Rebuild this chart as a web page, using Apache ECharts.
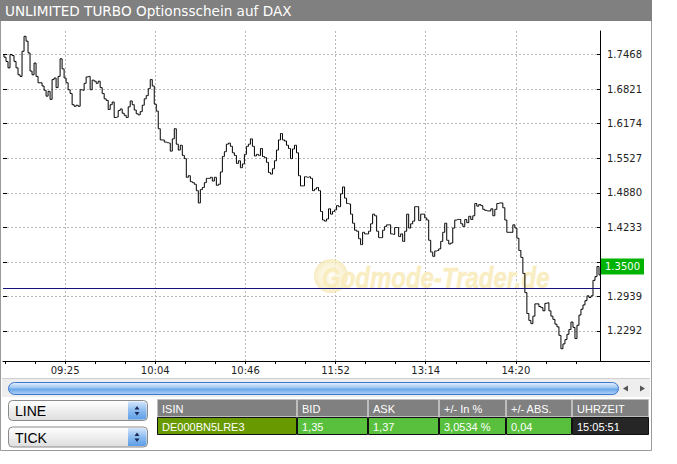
<!DOCTYPE html>
<html><head><meta charset="utf-8">
<script src="https://cdn.jsdelivr.net/npm/echarts@6/dist/echarts.min.js"></script>
<style>html,body{margin:0;padding:0;background:#fff}#c{width:677px;height:464px}</style>
</head><body><div id="c"></div>
<script>
const titleText = 'UNLIMITED TURBO Optionsschein auf DAX';
const timeLabels = ['09:25', '10:04', '10:46', '11:52', '13:14', '14:20'];
const timeLabelIndex = [31, 76, 121, 166, 211, 256];
const yTicks = [1.2292, 1.2939, 1.3586, 1.4233, 1.4880, 1.5527, 1.6174, 1.6821, 1.7468];
const yLabels = [1.2292, 1.2939, 1.4233, 1.4880, 1.5527, 1.6174, 1.6821, 1.7468];
const prices = [
1.747,1.742,1.734,1.722,1.747,1.745,1.734,1.722,1.709,1.706,
1.753,1.781,1.772,1.750,1.716,1.709,1.731,1.706,1.694,1.694,
1.688,1.680,1.669,1.678,1.663,1.700,1.703,1.685,1.706,1.739,
1.720,1.703,1.694,1.681,1.674,1.653,1.650,1.652,1.650,1.681,
1.680,1.693,1.705,1.706,1.681,1.699,1.697,1.693,1.697,1.685,
1.674,1.664,1.661,1.644,1.653,1.658,1.629,1.630,1.642,1.645,
1.637,1.633,1.629,1.649,1.660,1.653,1.643,1.636,1.634,1.640,
1.652,1.664,1.670,1.683,
1.700,1.688,1.654,1.641,1.608,1.587,1.587,1.583,1.582,1.581,
1.566,1.589,1.608,1.579,1.568,1.577,1.558,1.552,1.517,1.520,
1.509,1.507,1.504,1.492,1.469,1.494,1.498,1.507,1.515,1.515,
1.517,1.510,1.517,1.502,1.504,1.527,1.556,1.565,1.579,1.581,
1.575,1.563,1.558,1.543,1.548,1.535,1.542,1.560,1.575,1.579,
1.589,1.575,1.557,1.560,1.558,1.571,1.556,1.554,1.545,1.526,
1.523,1.533,1.548,1.568,1.587,1.599,1.587,1.585,1.577,1.571,
1.552,1.570,1.577,1.563,1.520,
1.501,1.501,1.518,1.517,1.518,1.515,1.492,1.495,1.498,1.492,
1.453,1.437,1.435,1.439,1.458,1.448,1.453,1.456,1.464,1.462,
1.486,1.499,1.478,1.468,1.467,1.448,1.431,1.418,1.416,1.402,
1.391,1.414,1.411,1.411,1.416,1.430,1.448,1.445,1.416,1.404,
1.404,1.418,1.425,1.428,1.428,1.411,1.410,1.423,1.423,1.406,
1.411,1.397,1.416,1.448,1.422,1.430,1.435,1.462,1.462,1.436,
1.448,1.448,1.441,1.437,1.399,1.377,1.369,1.379,1.380,1.383,
1.397,1.414,1.431,1.399,1.392,
1.394,1.422,1.437,1.438,1.438,1.430,1.425,1.438,1.432,1.444,
1.438,1.445,1.468,1.463,1.466,1.464,1.457,1.455,1.454,1.454,
1.458,1.445,1.457,1.468,1.469,1.469,1.460,1.437,1.414,1.414,
1.414,1.428,1.422,1.403,1.380,1.367,1.337,1.301,1.262,1.249,
1.243,1.257,1.280,1.280,1.275,1.273,1.267,1.281,1.282,1.267,
1.257,1.251,1.242,1.237,1.221,1.196,1.205,1.213,1.223,1.232,
1.246,1.236,1.215,1.240,1.259,1.270,1.278,1.286,1.295,1.292,
1.295,1.324,1.331,1.350,1.334
];
const lastPrice = 1.35;
const prevClose = 1.311;
const tableHeader = ['ISIN', 'BID', 'ASK', '+/- In %', '+/- ABS.', 'UHRZEIT'];
const tableRow = ['DE000BN5LRE3', '1,35', '1,37', '3,0534 %', '0,04', '15:05:51'];
const selectors = ['LINE', 'TICK'];
const watermarkText = 'Godmode-Trader.de';

const chart = echarts.init(document.getElementById('c'), null, {renderer: 'svg', width: 677, height: 464});
const categories = prices.map((_, i) => String(i));
const labelAt = {};
timeLabelIndex.forEach((k, j) => { labelAt[k] = timeLabels[j]; });
const isLabel = (i) => labelAt[i] !== undefined;
const isTick = (i) => i % 15 === 1;
const FF = 'DejaVu Sans';
const TF = 'Liberation Sans';

const colX = [157, 297, 368, 439, 506, 572, 649];
const rowFill = ['#689a00', '#58c03c', '#58c03c', '#58c03c', '#58c03c', '#262626'];
const graphics = [];
graphics.push({type: 'rect', z: 10, shape: {x: 0.5, y: 0.5, width: 651, height: 450}, style: {fill: 'none', stroke: '#9a9a9a', lineWidth: 1}});
graphics.push({type: 'rect', z: 10, shape: {x: 0, y: 0, width: 652, height: 21}, style: {fill: '#808080'}});
graphics.push({type: 'text', z: 11, x: 5, y: 11, style: {text: titleText, fill: '#fff', fontSize: 13.6, fontFamily: FF, textVerticalAlign: 'middle', verticalAlign: 'middle'}});
graphics.push({type: 'line', z: 10, shape: {x1: 600, y1: 361.5, x2: 650, y2: 361.5}, style: {stroke: '#000', lineWidth: 1}});
graphics.push({type: 'rect', z: 10, shape: {x: 2, y: 378, width: 648, height: 19}, style: {fill: '#eeeeee'}});
graphics.push({type: 'line', z: 10, shape: {x1: 2, y1: 378.5, x2: 650, y2: 378.5}, style: {stroke: '#cfcfcf'}});
graphics.push({type: 'rect', z: 11, shape: {x: 8.5, y: 382.5, width: 610, height: 12, r: 6}, style: {
  fill: new echarts.graphic.LinearGradient(0, 0, 0, 1, [
    {offset: 0, color: '#e6f0fd'}, {offset: 0.45, color: '#9cc5f2'}, {offset: 0.55, color: '#6aa6ec'}, {offset: 1, color: '#b0d2f6'}]),
  stroke: '#3d78d0', lineWidth: 1}});
graphics.push({type: 'polygon', z: 11, shape: {points: [[623, 388.5], [628, 385.5], [628, 391.5]]}, style: {fill: '#555'}});
graphics.push({type: 'polygon', z: 11, shape: {points: [[640, 385.5], [645, 388.5], [640, 391.5]]}, style: {fill: '#555'}});
selectors.forEach((s, k) => {
  const y0 = 400.5 + k * 26.5;
  graphics.push({type: 'rect', z: 10, shape: {x: 8.5, y: y0, width: 139, height: 20, r: 4}, style: {
    fill: new echarts.graphic.LinearGradient(0, 0, 0, 1, [{offset: 0, color: '#ffffff'}, {offset: 1, color: '#dedede'}]),
    stroke: '#8a8a8a', lineWidth: 1}});
  graphics.push({type: 'rect', z: 11, shape: {x: 128, y: y0 + 1, width: 18.5, height: 18, r: [0, 3, 3, 0]}, style: {
    fill: new echarts.graphic.LinearGradient(0, 0, 0, 1, [{offset: 0, color: '#d4e6fb'}, {offset: 0.5, color: '#8cbcf0'}, {offset: 1, color: '#5d9ee8'}])}});
  graphics.push({type: 'polygon', z: 12, shape: {points: [[134.5, y0 + 9], [139.5, y0 + 9], [137, y0 + 5.5]]}, style: {fill: '#1a2a55'}});
  graphics.push({type: 'polygon', z: 12, shape: {points: [[134.5, y0 + 11.5], [139.5, y0 + 11.5], [137, y0 + 15]]}, style: {fill: '#1a2a55'}});
  graphics.push({type: 'text', z: 12, x: 15, y: y0 + 10.5, style: {text: s, fill: '#000', fontSize: 14, fontFamily: TF, textVerticalAlign: 'middle', verticalAlign: 'middle'}});
});
tableHeader.forEach((h, j) => {
  graphics.push({type: 'rect', z: 10, shape: {x: colX[j] + 0.5, y: 399.5, width: colX[j + 1] - colX[j] - 1, height: 17}, style: {fill: '#808080', stroke: '#bdbdbd', lineWidth: 1}});
  graphics.push({type: 'text', z: 11, x: colX[j] + 5, y: 408.5, style: {text: h, fill: '#fff', fontSize: 11, fontFamily: TF, textVerticalAlign: 'middle', verticalAlign: 'middle'}});
  graphics.push({type: 'rect', z: 10, shape: {x: colX[j] + 0.5, y: 417.5, width: colX[j + 1] - colX[j] - 1, height: 17}, style: {fill: rowFill[j], stroke: '#111', lineWidth: 1}});
  graphics.push({type: 'text', z: 11, x: colX[j] + 5, y: 426.5, style: {text: tableRow[j], fill: '#fff', fontSize: 11, fontFamily: TF, textVerticalAlign: 'middle', verticalAlign: 'middle'}});
});
graphics.push({type: 'circle', z: 1, shape: {cx: 331, cy: 276, r: 17}, style: {
  fill: new echarts.graphic.RadialGradient(0.5, 0.5, 0.5, [{offset: 0, color: '#fffdf2'}, {offset: 0.7, color: '#faf1d0'}, {offset: 1, color: '#f4e6b0'}]), opacity: 0.8}});
graphics.push({type: 'text', z: 1, x: 322, y: 278, scaleX: 0.8, style: {text: watermarkText, fill: '#f9ebb8', stroke: '#fbf3d8', lineWidth: 1, fontSize: 30, fontWeight: 'bold', fontStyle: 'italic', fontFamily: TF, textVerticalAlign: 'middle', verticalAlign: 'middle', opacity: 0.85}});

const gridStyle = {color: '#b8b8b8', width: 1, type: [2, 2]};
chart.setOption({
  animation: false,
  grid: {left: 3, top: 31, width: 597, height: 330, containLabel: false, outerBoundsMode: 'none'},
  xAxis: {
    type: 'category', data: categories, boundaryGap: false,
    axisLine: {show: true, lineStyle: {color: '#000', width: 1}},
    axisTick: {show: true, interval: (i) => isTick(i), length: 3, lineStyle: {color: '#000'}},
    axisLabel: {show: true, interval: (i) => isLabel(i), formatter: (v, i) => labelAt[i] || '', color: '#222', fontSize: 10, fontFamily: FF, margin: 4},
    splitLine: {show: true, interval: (i) => isLabel(i), lineStyle: gridStyle}
  },
  yAxis: [{
    type: 'value', position: 'right', min: 1.173, max: 1.791, scale: true,
    axisLine: {show: true, lineStyle: {color: '#000', width: 1}},
    axisTick: {show: true, inside: true, length: 3, customValues: yTicks, lineStyle: {color: '#000'}},
    axisLabel: {show: true, customValues: yLabels, formatter: (v) => v.toFixed(4), color: '#222', fontSize: 10, fontFamily: FF, margin: 7},
    splitLine: {show: true, lineStyle: gridStyle}
  }, {
    type: 'value', position: 'left', min: 1.173, max: 1.791, scale: true,
    axisLine: {show: false},
    axisTick: {show: true, inside: true, length: 4, customValues: yTicks, lineStyle: {color: '#000'}},
    axisLabel: {show: false},
    splitLine: {show: false}
  }],
  graphic: graphics,
  series: [{
    type: 'line', data: prices, yAxisIndex: 0, showSymbol: false, symbol: 'none', z: 3, step: 'middle',
    lineStyle: {color: '#000', width: 1},
    emphasis: {disabled: true},
    markLine: {
      silent: true, symbol: 'none', animation: false,
      data: [
        {yAxis: prevClose, lineStyle: {color: '#14147a', width: 1, type: 'solid'}, label: {show: false}},
        {yAxis: lastPrice, lineStyle: {color: 'rgba(0,0,0,0)', width: 1, type: 'solid'}, label: {show: true, position: 'end', distance: 1, formatter: () => lastPrice.toFixed(4), backgroundColor: '#00b300', color: '#fff', padding: [3, 4, 3, 4], fontSize: 10, fontFamily: FF}}
      ]
    }
  }]
});
</script>
</body></html>
